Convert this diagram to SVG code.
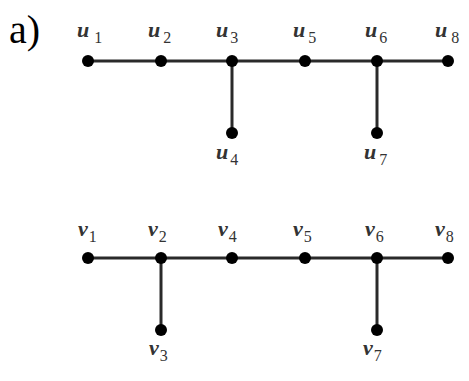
<svg xmlns="http://www.w3.org/2000/svg" width="469" height="381" viewBox="0 0 469 381">
<style>
.e{stroke:#2a2a2a;stroke-width:3;fill:none}
.n{fill:#000}
text{font-family:"Liberation Serif","Times New Roman",serif}
.l{font-style:italic;font-size:22px;font-weight:bold;fill:#333}
.s{font-size:16px;font-style:normal;font-weight:normal}
.t{font-size:40px;fill:#000}
</style>
<rect width="469" height="381" fill="#fff"/>
<text class="t" x="9" y="43">a)</text>
<g id="connectors">
<line class="e" x1="88" y1="61" x2="448" y2="61"/>
<line class="e" x1="232" y1="61" x2="232" y2="133"/>
<line class="e" x1="377" y1="61" x2="377" y2="133"/>
<line class="e" x1="88" y1="258" x2="448" y2="258"/>
<line class="e" x1="161" y1="258" x2="161" y2="330"/>
<line class="e" x1="377" y1="258" x2="377" y2="330"/>
</g>
<g id="u1"><circle class="n" cx="88" cy="61" r="6"/><text class="l" x="77" y="37">u<tspan class="s" dx="5" dy="6">1</tspan></text></g>
<g id="u2"><circle class="n" cx="161" cy="61" r="6"/><text class="l" x="148" y="37">u<tspan class="s" dx="3" dy="6">2</tspan></text></g>
<g id="u3"><circle class="n" cx="232" cy="61" r="6"/><text class="l" x="216" y="37">u<tspan class="s" dx="2" dy="6">3</tspan></text></g>
<g id="u4"><circle class="n" cx="232" cy="133" r="6"/><text class="l" x="216" y="159">u<tspan class="s" dx="2" dy="6">4</tspan></text></g>
<g id="u5"><circle class="n" cx="305" cy="61" r="6"/><text class="l" x="293" y="37">u<tspan class="s" dx="3" dy="6">5</tspan></text></g>
<g id="u6"><circle class="n" cx="377" cy="61" r="6"/><text class="l" x="365" y="37">u<tspan class="s" dx="2" dy="6">6</tspan></text></g>
<g id="u7"><circle class="n" cx="377" cy="133" r="6"/><text class="l" x="364" y="159">u<tspan class="s" dx="3" dy="6">7</tspan></text></g>
<g id="u8"><circle class="n" cx="448" cy="61" r="6"/><text class="l" x="435" y="37">u<tspan class="s" dx="4" dy="6">8</tspan></text></g>
<g id="v1"><circle class="n" cx="88" cy="258" r="6"/><text class="l" x="78" y="236">v<tspan class="s" dx="1" dy="6">1</tspan></text></g>
<g id="v2"><circle class="n" cx="161" cy="258" r="6"/><text class="l" x="148" y="236">v<tspan class="s" dx="1" dy="6">2</tspan></text></g>
<g id="v3"><circle class="n" cx="161" cy="330" r="6"/><text class="l" x="149" y="355">v<tspan class="s" dx="1" dy="6">3</tspan></text></g>
<g id="v4"><circle class="n" cx="232" cy="258" r="6"/><text class="l" x="218" y="236">v<tspan class="s" dx="1" dy="6">4</tspan></text></g>
<g id="v5"><circle class="n" cx="305" cy="258" r="6"/><text class="l" x="293" y="236">v<tspan class="s" dx="1" dy="6">5</tspan></text></g>
<g id="v6"><circle class="n" cx="377" cy="258" r="6"/><text class="l" x="365" y="236">v<tspan class="s" dx="1" dy="6">6</tspan></text></g>
<g id="v7"><circle class="n" cx="377" cy="330" r="6"/><text class="l" x="363" y="355">v<tspan class="s" dx="1" dy="6">7</tspan></text></g>
<g id="v8"><circle class="n" cx="448" cy="258" r="6"/><text class="l" x="435" y="236">v<tspan class="s" dx="1" dy="6">8</tspan></text></g>
</svg>
